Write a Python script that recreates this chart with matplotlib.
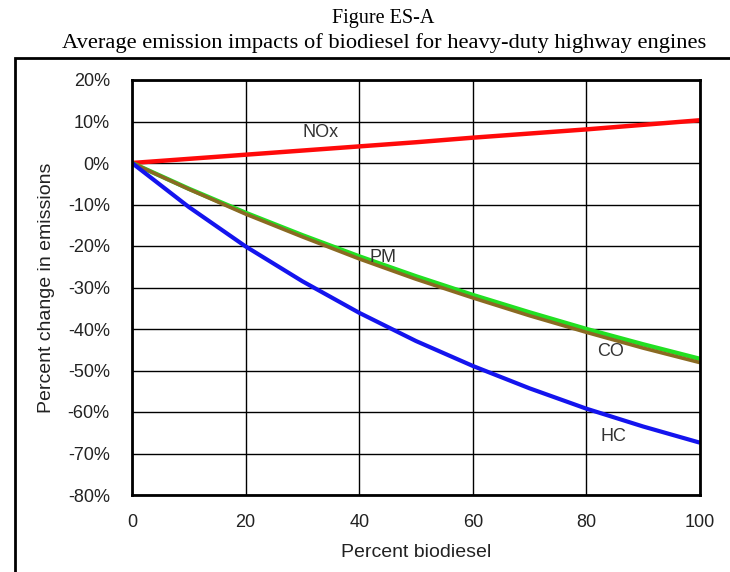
import matplotlib.pyplot as plt
from matplotlib.patches import Rectangle
from matplotlib.ticker import FuncFormatter

# percent biodiesel
blend = [0, 10, 20, 30, 40, 50, 60, 70, 80, 90, 100]

# percent change in emissions
nox = [0, 1.0, 2.0, 3.0, 4.0, 5.0, 6.1, 7.1, 8.1, 9.2, 10.3]
pm = [0, -6.2, -12.0, -17.4, -22.5, -27.3, -31.8, -36.0, -40.0, -43.7, -47.2]
co = [0, -6.3, -12.3, -17.8, -23.1, -28.0, -32.5, -36.8, -40.8, -44.6, -48.1]
hc = [0, -10.6, -20.1, -28.5, -36.1, -42.9, -48.9, -54.3, -59.2, -63.5, -67.4]

xticks = [0, 20, 40, 60, 80, 100]
yticks = list(range(-80, 21, 10))

sans = 'Liberation Sans'
serif = 'Liberation Serif'

fig = plt.figure(figsize=(7.3, 5.72), dpi=100)
ax = fig.add_axes([132/730, 1 - 495/572, (700-132)/730, (495-80)/572])

ax.plot(blend, nox, color='#ff0a0a', lw=3.2, solid_capstyle='butt')
ax.plot(blend, pm, color='#22e022', lw=3.2, solid_capstyle='butt')
ax.plot(blend, co, color='#8a6a22', lw=2.6, solid_capstyle='butt')
ax.plot(blend, hc, color='#1414ee', lw=3.0, solid_capstyle='butt')

ax.set_xlim(0, 100)
ax.set_ylim(-80, 20)
ax.set_xticks(xticks)
ax.set_yticks(yticks)
ax.yaxis.set_major_formatter(FuncFormatter(lambda v, p: '%d%%' % v))
ax.grid(True, color='black', lw=1.0)
ax.set_axisbelow(True)
ax.tick_params(axis='y', length=0, pad=16, labelsize=13, labelcolor='#222222')
ax.tick_params(axis='x', length=0, pad=14, labelsize=13, labelcolor='#222222')
for lab in ax.get_xticklabels() + ax.get_yticklabels():
    lab.set_family(sans)
for sp in ax.spines.values():
    sp.set_linewidth(2.0)

ax.set_xlabel('Percent biodiesel', family=sans, fontsize=14, color='#222222', labelpad=9)
ax.set_ylabel('Percent change in emissions', family=sans, fontsize=14, color='#222222', labelpad=9)

lab_kw = dict(family=sans, fontsize=13, color='#333333', ha='center', va='center')
ax.text(33.2, 7.3, 'NOx', **lab_kw)
ax.text(44.2, -22.8, 'PM', **lab_kw)
ax.text(84.3, -45.5, 'CO', **lab_kw)
ax.text(84.8, -66.0, 'HC', **lab_kw)

fig.text(383/730, 1 - 18/572, 'Figure ES-A', family=serif, fontsize=14.5,
         ha='center', va='center')
fig.text(384/730, 1 - 43/572,
         'Average emission impacts of biodiesel for heavy-duty highway engines',
         family=serif, fontsize=16.2, ha='center', va='center')

fig.patches.append(Rectangle((15/730, -0.05), 1.0, 0.05 + 1 - 58/572,
                             transform=fig.transFigure, fill=False,
                             edgecolor='black', lw=2.0))

fig.savefig('out.png', dpi=100)
